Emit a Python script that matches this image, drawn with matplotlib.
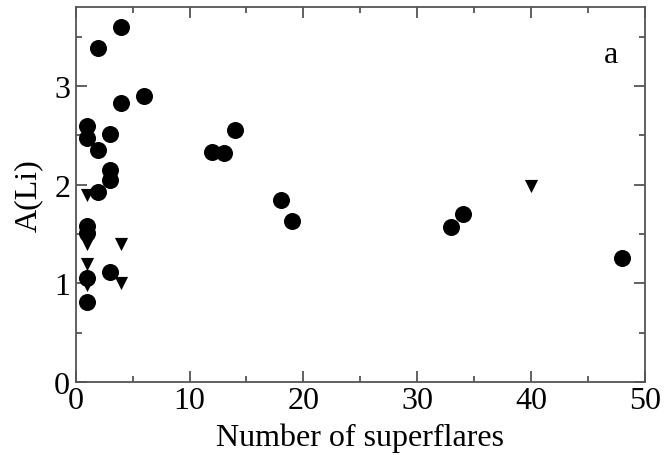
import numpy as np
import matplotlib.pyplot as plt
from matplotlib.ticker import MultipleLocator

plt.rcParams['font.family'] = ['Liberation Serif', 'DejaVu Serif']

# Li abundance detections (circles)
detX = [4, 2, 6, 4, 1, 3, 1, 2, 3, 3, 2, 1, 1, 3, 1, 1,
        12, 13, 14, 18, 19, 33, 34, 48]
detY = [3.60, 3.39, 2.90, 2.83, 2.60, 2.51, 2.47, 2.35, 2.15, 2.05, 1.93, 1.58, 1.51, 1.12, 1.05, 0.81,
        2.33, 2.32, 2.56, 1.85, 1.63, 1.57, 1.70, 1.26]

# upper limits (down triangles)
limX = [1, 1, 1, 4, 1, 1, 4, 40]
limY = [1.90, 1.46, 1.40, 1.40, 1.20, 0.98, 1.00, 1.99]

fig = plt.figure(figsize=(6.64, 4.56), dpi=100)
ax = fig.add_axes([0.114, 0.16, 0.857, 0.822])

ax.scatter(detX, detY, s=150, c='black', marker='o', linewidths=0, zorder=3)
ax.scatter(limX, limY, s=90, c='black', marker='v', linewidths=0, zorder=3)

ax.set_xlim(0, 50)
ax.set_ylim(0, 3.8)
ax.xaxis.set_major_locator(MultipleLocator(10))
ax.xaxis.set_minor_locator(MultipleLocator(5))
ax.yaxis.set_major_locator(MultipleLocator(1))
ax.yaxis.set_minor_locator(MultipleLocator(0.5))

for s in ax.spines.values():
    s.set_color('#555555')
    s.set_linewidth(1.3)
ax.tick_params(which='both', direction='in', top=True, right=True,
               color='#555555', width=1.3, labelsize=23)
ax.tick_params(axis='x', pad=3)
ax.tick_params(axis='y', pad=4)
ax.tick_params(which='major', length=8)
ax.tick_params(which='minor', length=4)

ax.set_xlabel('Number of superflares', fontsize=23, labelpad=5)
ax.set_ylabel('A(Li)', fontsize=23, labelpad=8)
ax.text(0.94, 0.875, 'a', transform=ax.transAxes, fontsize=23, ha='center', va='center')

fig.savefig('out.png', dpi=100)
